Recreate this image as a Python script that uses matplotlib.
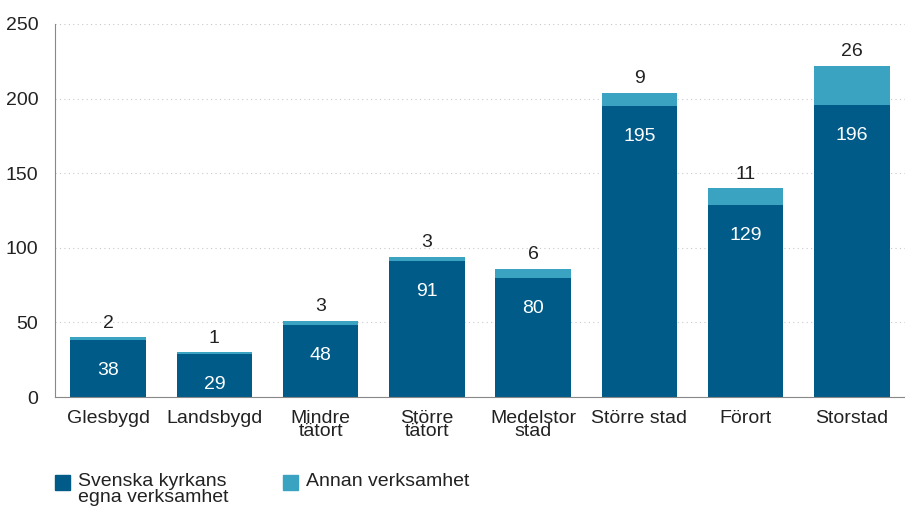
import numpy as np
import matplotlib.pyplot as plt
from matplotlib.patches import Rectangle

plt.rcParams['font.family'] = ['Liberation Sans', 'DejaVu Sans']

categories = ['Glesbygd', 'Landsbygd', 'Mindre\ntätort', 'Större\ntätort',
              'Medelstor\nstad', 'Större stad', 'Förort', 'Storstad']
egna = [38, 29, 48, 91, 80, 195, 129, 196]
annan = [2, 1, 3, 3, 6, 9, 11, 26]
legend_labels = ['Svenska kyrkans\negna verksamhet', 'Annan verksamhet']

dark = '#005b88'
light = '#3aa3c1'
fs = 14
W, H = 905, 511

fig = plt.figure(figsize=(W / 100, H / 100), dpi=100)
ax = fig.add_axes([55 / W, 1 - 397 / H, 1 - 55 / W, (397 - 24) / H])

x = np.arange(len(categories))
ax.bar(x, egna, width=0.71, color=dark, zorder=2)
ax.bar(x, annan, width=0.71, bottom=egna, color=light, zorder=2)

for i in range(len(x)):
    ax.annotate(str(egna[i]), (x[i], egna[i]), xytext=(0, -22), textcoords='offset points',
                ha='center', va='center', color='white', fontsize=fs)
    ax.annotate(str(annan[i]), (x[i], egna[i] + annan[i]), xytext=(0, 4), textcoords='offset points',
                ha='center', va='bottom', color='#222222', fontsize=fs)

ax.set_xlim(-0.5, 7.5)
ax.set_ylim(0, 250)
ax.set_yticks(range(0, 251, 50))
ax.set_xticks(x)
ax.set_xticklabels(categories, linespacing=0.7)
ax.tick_params(axis='both', length=0, labelsize=fs, colors='#222222')
ax.tick_params(axis='x', pad=9)
ax.tick_params(axis='y', pad=12)
ax.yaxis.grid(True, linestyle=(0, (1, 3)), color='#c8c8c8', linewidth=0.8, zorder=0)
for s in ['top', 'right']:
    ax.spines[s].set_visible(False)
ax.spines['left'].set_color('#888888')
ax.spines['bottom'].set_color('#888888')

# legend drawn by hand so the square lines up with the first text line
for lx, col, lab in zip([55, 283], [dark, light], legend_labels):
    fig.patches.append(Rectangle((lx / W, 1 - 490 / H), 15 / W, 15 / H,
                                 transform=fig.transFigure, color=col))
    fig.text((lx + 23) / W, 1 - 473 / H, lab, fontsize=fs, color='#222222',
             ha='left', va='top', linespacing=0.9)

fig.savefig('out.png', dpi=100)
